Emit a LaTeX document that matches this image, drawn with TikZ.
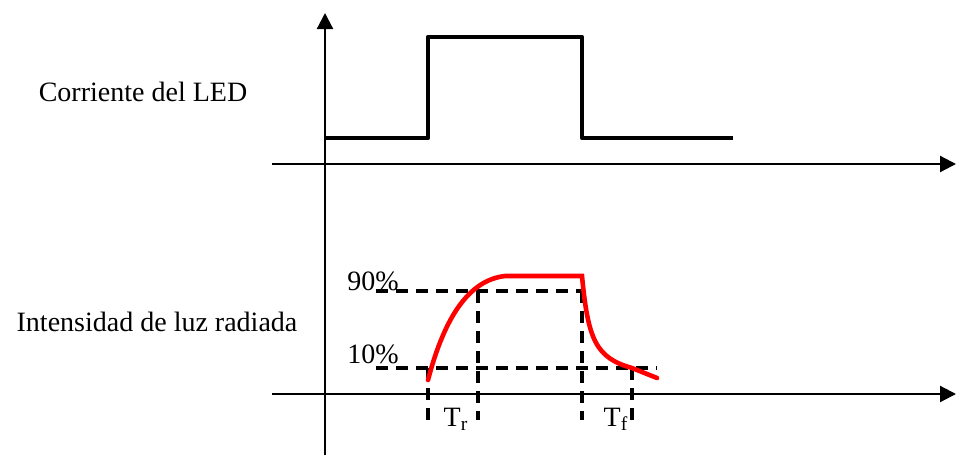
\documentclass[tikz,border=0pt]{standalone}
\usepackage{fontspec}
\setmainfont{Liberation Serif}
\usetikzlibrary{arrows.meta}

\begin{document}
\begin{tikzpicture}[x=0.5pt, y=-0.5pt, font=\fontsize{14}{16}\selectfont,
  axis/.style={line width=1.1pt, -{Triangle[length=8pt, width=8pt]}},
  wave/.style={line width=2.3pt, line join=round},
  light/.style={line width=2.3pt, red, line cap=round},
  guide/.style={line width=1.6pt, dash pattern=on 6pt off 4pt}]
  \useasboundingbox (0,0) rectangle (956,455);
  % axes
  \coordinate (yo) at (325,455);
  \coordinate (ytop) at (325,13);
  \coordinate (ao) at (272,164);
  \coordinate (aend) at (956,164);
  \coordinate (bo) at (272,394);
  \coordinate (bend) at (956,394);
  \draw[axis] (yo) -- (ytop);
  \draw[axis] (ao) -- (aend);
  \draw[axis] (bo) -- (bend);
  % LED current
  \draw[wave] (325,138) -- (428,138) -- (428,37) -- (582,37) -- (582,138) -- (733,138);
  % guides
  \coordinate (h90) at (376,291);
  \coordinate (h10) at (376,368);
  \draw[guide] (h90) -- (582,291);
  \draw[guide] (h10) -- (657,368);
  \draw[guide] (428,368) -- (428,420);
  \draw[guide] (478,291) -- (478,420);
  \draw[guide] (582,291) -- (582,420);
  \draw[guide] (632,368) -- (632,420);
  % radiated light
  \draw[light] (428,380) .. controls (445,315) and (470,280) .. (505,276)
    -- (582,276) .. controls (588,340) and (596,358) .. (632,368) -- (657,378);
  % labels
  \node (ilabel) at (143,92) {Corriente del LED};
  \node (olabel) at (157,322) {Intensidad de luz radiada};
  \node (p90) at (373,281) {90\%};
  \node (p10) at (373,354) {10\%};
  \node (tr) at (456,419) {T\textsubscript{r}};
  \node (tf) at (616,419) {T\textsubscript{f}};
\end{tikzpicture}
\end{document}
